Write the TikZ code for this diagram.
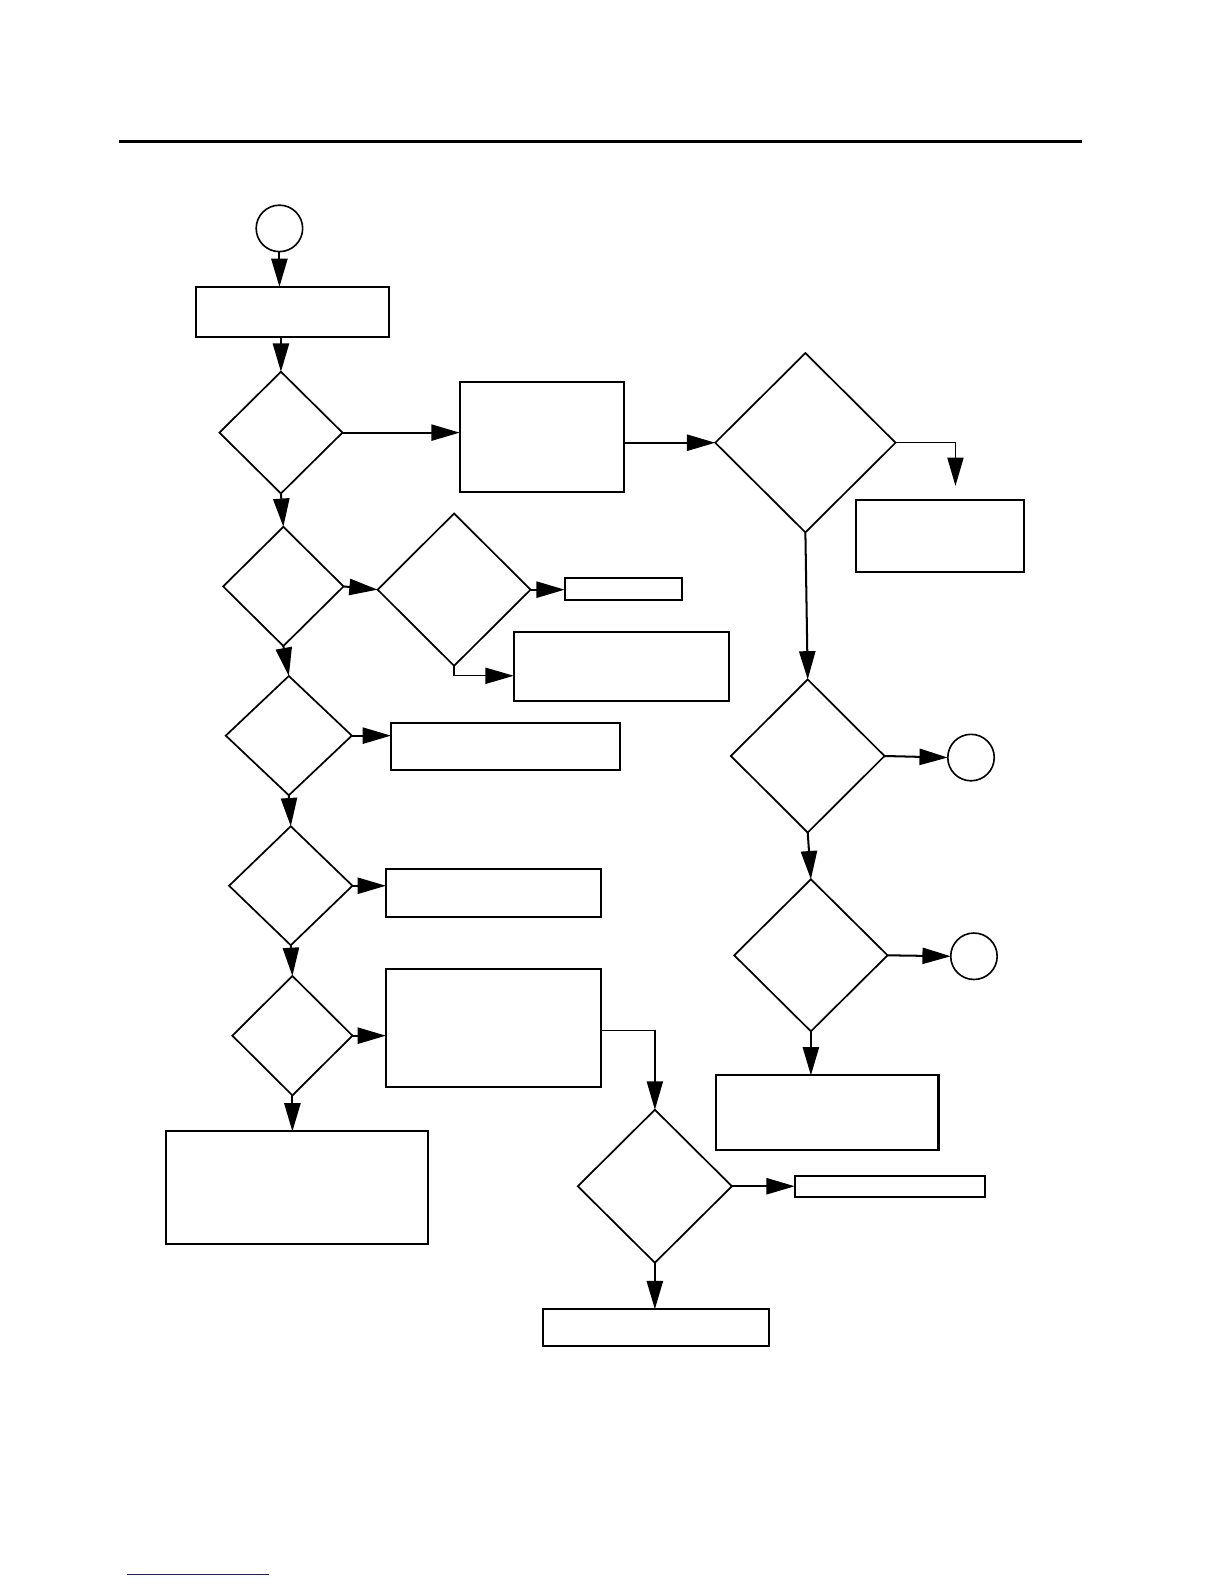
\documentclass[tikz,border=0pt]{standalone}
\usetikzlibrary{shapes.geometric,arrows.meta}
\definecolor{navyline}{RGB}{25,25,140}
\tikzset{
  box/.style={draw, rectangle, line width=1pt, inner sep=0pt, outer sep=0pt},
  dia/.style={draw, diamond, line width=0.85pt, inner sep=0pt, outer sep=0pt},
  term/.style={draw, circle, line width=0.8pt, inner sep=0pt, outer sep=0pt, minimum size=23pt},
  arr/.style={-{Triangle[length=14pt,width=8pt]}, line width=1pt},
  thinarr/.style={-{Triangle[length=14pt,width=8pt]}, line width=0.65pt},
}
\newcommand{\bx}[5]{\node[box, minimum width=#4*0.5pt, minimum height=#5*0.5pt] (#1) at (#2,#3) {};}
\newcommand{\dm}[5]{\node[dia, minimum width=#4*0.5pt, minimum height=#5*0.5pt] (#1) at (#2,#3) {};}
\begin{document}
\begin{tikzpicture}[x=0.5pt,y=-0.5pt]
\fill[white] (0,0) rectangle (1212,1568);
\useasboundingbox (0,0) rectangle (1212,1568);
% header and footer rules
\coordinate (hl) at (118,140);
\coordinate (hr) at (1071,140);
\draw[line width=1.2pt] (hl) -- (hr);
\coordinate (fl) at (125.5,1558.6);
\coordinate (fr) at (266.4,1558.6);
\draw[navyline, line width=0.7pt] (fl) -- (fr);
% terminals
\node[term] (C0) at (276.6,226.1) {};
\node[term] (C1) at (961.2,749.9) {};
\node[term] (C2) at (964.1,946.6) {};
% boxes
\bx{R1}{289.75}{308.75}{191.5}{49.5}
\bx{B2}{536.5}{432.9}{163}{109.2}
\bx{B3}{930.5}{530.25}{167}{71.5}
\bx{BS}{617.25}{583}{116.5}{22}
\bx{B5}{615.25}{659.75}{213.5}{68.5}
\bx{B6}{500.5}{739.05}{227}{46.5}
\bx{B7}{488.65}{884.25}{213.3}{47.5}
\bx{B8}{488.65}{1017.75}{213.3}{116.5}
\bx{BL}{293.6}{1175.75}{259.2}{111.5}
\bx{B9R}{881.1}{1174.8}{188.8}{21}
\bx{B9D}{649.5}{1314.25}{224}{36.5}
\bx{B10D}{819}{1101.6}{220}{74.2}
% decisions
\dm{D1}{278.1}{428.25}{121.8}{120.5}
\dm{D2}{797.25}{438.25}{178.5}{177.5}
\dm{D3}{280.5}{580.5}{119.2}{118}
\dm{D5}{449.5}{583.7}{151.4}{150.8}
\dm{D6}{285.9}{728.2}{124.8}{118.1}
\dm{D7}{287.85}{876.8}{122.1}{117.8}
\dm{D8}{289.45}{1025.2}{118.9}{118.2}
\dm{D9}{648.25}{1174.25}{152.5}{151.5}
\dm{D4}{799.55}{748.35}{152.1}{151.5}
\dm{D10}{802.7}{945.65}{151.8}{150.5}
\coordinate (t3) at (945.8,481);
% connectors
\draw[arr] (C0.south) -- (C0.south |- R1.north);
\draw[arr] (D1.north |- R1.south) -- (D1.north);
\draw[arr] (D1.east) -- (D1.east -| B2.west);
\draw[arr] (D2.west -| B2.east) -- (D2.west);
\draw[thinarr] (D2.east) -| (t3);
\draw[arr] (D2.south) -- (D4.north);
\draw[arr] (D1.south) -- (D3.north);
\draw[arr] (D3.east) -- (D5.west);
\draw[arr] (D5.east) -- (D5.east -| BS.west);
\draw[thinarr] (D5.south) |- ([yshift=-4.6pt]B5.west);
\draw[arr] (D3.south) -- (D6.north);
\draw[arr] (D6.east) -- (D6.east -| B6.west);
\draw[arr] (D6.south) -- (D7.north);
\draw[arr] (D7.east) -- (D7.east -| B7.west);
\draw[arr] (D7.south) -- (D8.north);
\draw[arr] (D8.east) -- (D8.east -| B8.west);
\draw[arr] (D8.south) -- (D8.south |- BL.north);
\draw[thinarr] ([yshift=-1.2pt]B8.east) -| (D9.north);
\draw[arr] (D9.east) -- (D9.east -| B9R.west);
\draw[arr] (D9.south) -- (D9.south |- B9D.north);
\draw[arr] (D4.east) -- (C1.west);
\draw[arr] (D4.south) -- (D10.north);
\draw[arr] (D10.east) -- (C2.west);
\draw[arr] (D10.south) -- (D10.south |- B10D.north);
\end{tikzpicture}
\end{document}
